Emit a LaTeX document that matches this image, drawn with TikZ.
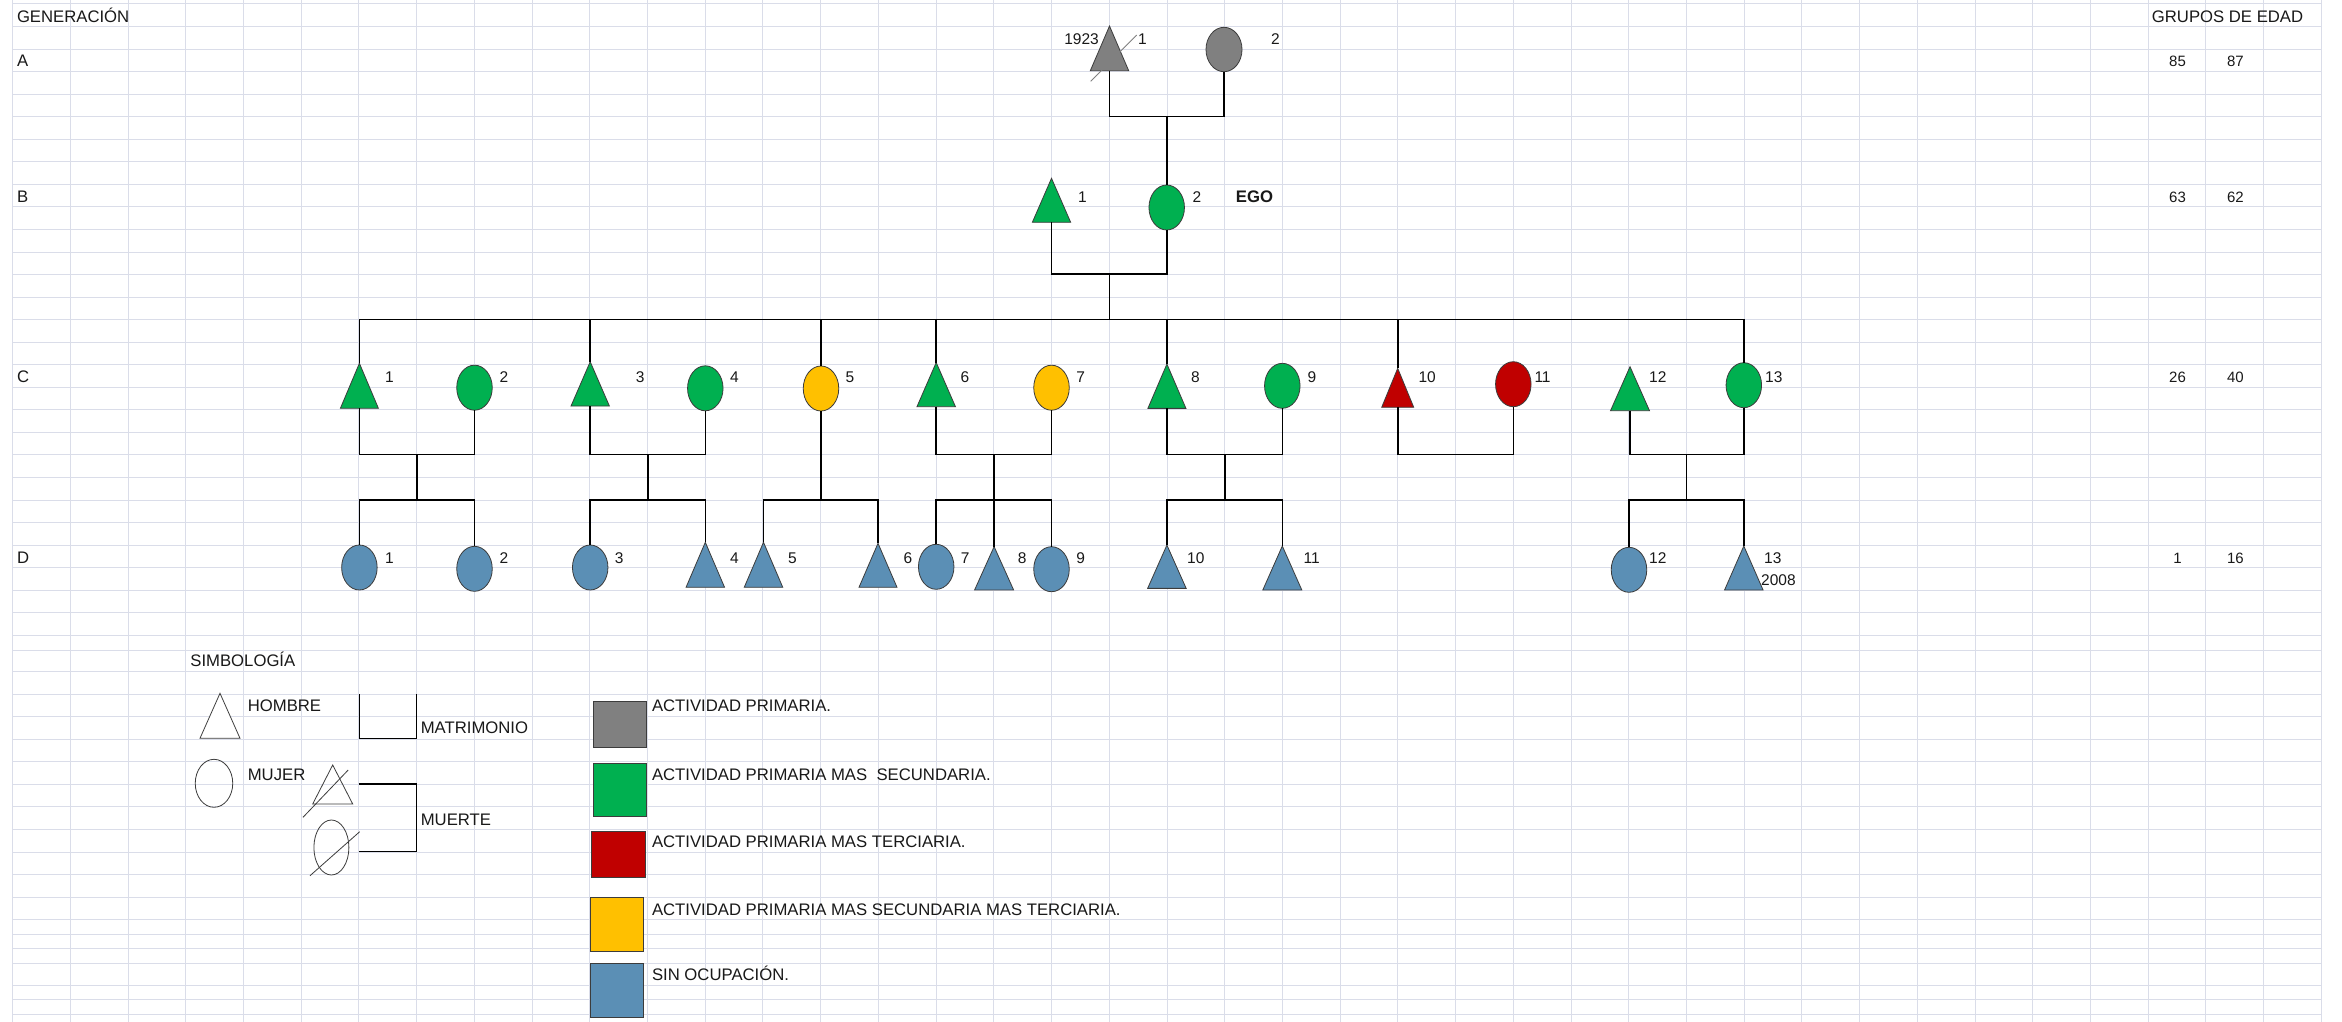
\documentclass[tikz,border=0pt]{standalone}
\usepackage{fontspec}
\setmainfont{Liberation Sans}
\usetikzlibrary{shapes.geometric}
\definecolor{gridc}{RGB}{218,221,233}
\definecolor{actgray}{RGB}{128,128,128}
\definecolor{actgreen}{RGB}{0,176,80}
\definecolor{actred}{RGB}{192,0,0}
\definecolor{actyellow}{RGB}{255,192,0}
\definecolor{actblue}{RGB}{91,143,181}
\definecolor{inkc}{RGB}{25,25,25}
\definecolor{outl}{RGB}{60,60,60}

\newcommand\malenode[6]{%
  \node[malebox, minimum width=#4pt, minimum height=#5pt] (#1) at (#2,#3) {};
  \draw[shapeline, fill=#6] (#1.south west) -- (#1.south east) -- (#1.north) -- cycle;
}
\newcommand\femnode[4]{%
  \node[fembox, fill=#4] (#1) at (#2,#3) {};
}

\begin{document}
\begin{tikzpicture}[x=1pt, y=-1pt,
  gridline/.style={draw=gridc, line width=1pt},
  conn/.style={draw=black, line width=1.6pt},
  shapeline/.style={draw=outl, line width=0.8pt},
  malebox/.style={rectangle, inner sep=0pt, outer sep=0pt},
  fembox/.style={ellipse, draw=outl, line width=0.8pt, inner sep=0pt, outer sep=0pt, minimum width=35.5pt, minimum height=45pt},
  lbl/.style={anchor=base west, inner sep=0pt, text=inkc, font=\fontsize{15.5}{18}\selectfont},
  cell/.style={anchor=base west, inner sep=0pt, text=inkc, font=\fontsize{16.7}{20}\selectfont},
  age/.style={anchor=base, inner sep=0pt, text=inkc, font=\fontsize{15}{18}\selectfont},
  slashline/.style={draw=gray, line width=0.8pt},
  legline/.style={draw=outl, line width=0.8pt},
  legsq/.style={rectangle, draw=outl, line width=0.9pt, inner sep=0pt}
]
\useasboundingbox (0,0) rectangle (2342,1022);
\fill[white] (0,0) rectangle (2342,1022);

% spreadsheet grid
\foreach \k in {0,...,40} \draw[gridline] ({12.6+57.72*\k},0) -- ({12.6+57.72*\k},1022);
\foreach \yy in {4,26.6,49.2,71.7,94.2,116.8,139.3,161.9,184.4,206.9,229.5,252,274.6,297.1,319.6,342.2,364.7,387.3,409.8,432.3,454.9,477.4,500,522.5,545.1,567.6,590.1,612.7,635.2,650,671.7,694,716.5,739,761.5,784.2,806.8,829.3,852,874.4,897,919.3,934,948.3,963.3,985,999.3,1014}
  \draw[gridline] (12.6,\yy) -- (2321.4,\yy);

% headers
\node[cell] (hgen) at (16.8,22.7) {GENERACIÓN};
\node[cell] (hA) at (16.8,66.7) {A};
\node[cell] (hB) at (16.8,202.3) {B};
\node[cell] (hC) at (16.8,382.7) {C};
\node[cell] (hD) at (16.8,563.3) {D};
\node[cell] (hgrp) at (2151.7,23) {GRUPOS DE EDAD};
\node[age] (ag1) at (2177.5,66.7) {85};
\node[age] (ag2) at (2235.4,66.7) {87};
\node[age] (ag3) at (2177.5,202.5) {63};
\node[age] (ag4) at (2235.4,202.5) {62};
\node[age] (ag5) at (2177.5,382.7) {26};
\node[age] (ag6) at (2235.4,382.7) {40};
\node[age] (ag7) at (2177.5,563.3) {1};
\node[age] (ag8) at (2235.4,563.3) {16};

% generation A
\malenode{A1}{1109.5}{48.4}{38.4}{44.7}{actgray}
\node[fembox, fill=actgray, minimum width=36pt, minimum height=44.4pt] (A2) at (1224,49.5) {};
\draw[slashline] (1090.7,81.3) -- (1136.7,35);
\node[lbl, anchor=base east] (tA1y) at (1099,45) {1923};
\node[lbl] (tA1) at (1138,45) {1};
\node[lbl] (tA2) at (1271,45) {2};
\coordinate (amid) at (1166.7,116.7);

% generation B
\malenode{B1}{1051.5}{200.3}{38.3}{44}{actgreen}
\femnode{B2}{1166.7}{207.5}{actgreen}
\node[lbl] (tB1) at (1078,202.3) {1};
\node[lbl] (tB2) at (1192.3,202.3) {2};
\node[cell, font=\fontsize{16.7}{20}\selectfont\bfseries] (tego) at (1235.7,202.3) {EGO};
\coordinate (bmid) at (1109.3,274);
\coordinate (sib) at (1109.3,319.6);

% generation C
\malenode{C1}{359.4}{385.8}{38}{45}{actgreen}
\femnode{C2}{474.5}{387.7}{actgreen}
\malenode{C3}{590.2}{383.9}{38.4}{44.3}{actgreen}
\femnode{C4}{705.3}{388.3}{actgreen}
\femnode{C5}{821}{388.5}{actyellow}
\malenode{C6}{936.2}{384.6}{38.5}{44.2}{actgreen}
\femnode{C7}{1051.5}{387.7}{actyellow}
\malenode{C8}{1166.9}{386.2}{38}{44.3}{actgreen}
\femnode{C9}{1282.3}{385.8}{actgreen}
\malenode{C10}{1397.7}{387.8}{32}{39}{actred}
\femnode{C11}{1513.3}{384.2}{actred}
\malenode{C12}{1630}{388.7}{39}{44}{actgreen}
\femnode{C13}{1743.8}{385.2}{actgreen}

\node[lbl] (tC1) at (384.8,382.7) {1};
\node[lbl] (tC2) at (499.5,382.7) {2};
\node[lbl] (tC3) at (635.7,382.7) {3};
\node[lbl] (tC4) at (729.9,382.7) {4};
\node[lbl] (tC5) at (845.5,382.7) {5};
\node[lbl] (tC6) at (960.5,382.7) {6};
\node[lbl] (tC7) at (1076.2,382.7) {7};
\node[lbl] (tC8) at (1191,382.7) {8};
\node[lbl] (tC9) at (1307.5,382.7) {9};
\node[lbl] (tC10) at (1418.3,382.7) {10};
\node[lbl] (tC11) at (1534.3,382.7) {11};
\node[lbl] (tC12) at (1649,382.7) {12};
\node[lbl] (tC13) at (1765,382.7) {13};

\coordinate (mc1) at (417,454.3);   \coordinate (kc1) at (417,500);
\coordinate (mc3) at (647.7,454.3); \coordinate (kc3) at (647.7,500);
\coordinate (kc5) at (821,500);
\coordinate (mc6) at (994.1,454.3); \coordinate (kc6) at (994.1,500);
\coordinate (mc8) at (1224.9,454.3); \coordinate (kc8) at (1224.9,500);
\coordinate (mc10) at (1455.5,454.3);
\coordinate (mc12) at (1686.4,454.3); \coordinate (kc12) at (1686.4,500);

% generation D
\femnode{D1}{359.4}{567.5}{actblue}
\femnode{D2}{474.5}{568.8}{actblue}
\femnode{D3}{590.2}{567.5}{actblue}
\malenode{D4}{705.3}{564.8}{38.5}{45}{actblue}
\malenode{D5}{763.5}{564.8}{38.5}{45}{actblue}
\malenode{D6}{878}{565.3}{38}{44}{actblue}
\femnode{D7}{936.2}{566.8}{actblue}
\malenode{D8}{994.1}{568.3}{39}{43.3}{actblue}
\femnode{D9}{1051.5}{569.2}{actblue}
\malenode{D10}{1166.9}{566.7}{38.5}{43.3}{actblue}
\malenode{D11}{1282.3}{568}{39}{44}{actblue}
\femnode{D12}{1629}{569.8}{actblue}
\malenode{D13}{1743.8}{568}{38.5}{44}{actblue}

\node[lbl] (tD1) at (384.8,563.3) {1};
\node[lbl] (tD2) at (499.5,563.3) {2};
\node[lbl] (tD3) at (614.7,563.3) {3};
\node[lbl] (tD4) at (729.9,563.3) {4};
\node[lbl] (tD5) at (787.9,563.3) {5};
\node[lbl] (tD6) at (903.5,563.3) {6};
\node[lbl] (tD7) at (960.7,563.3) {7};
\node[lbl] (tD8) at (1017.7,563.3) {8};
\node[lbl] (tD9) at (1076.2,563.3) {9};
\node[lbl] (tD10) at (1187,563.3) {10};
\node[lbl] (tD11) at (1303.5,563.3) {11};
\node[lbl] (tD12) at (1649,563.3) {12};
\node[lbl] (tD13) at (1764,563.3) {13};
\node[lbl] (tD13y) at (1761,585) {2008};

% connectors
\draw[conn] (A1.south) |- (amid) -| (A2.south);
\draw[conn] (amid) -- (B2.north);
\draw[conn] (B1.south) |- (bmid) -| (B2.south);
\draw[conn] (bmid) -- (sib);
\foreach \n in {C1,C3,C5,C6,C8,C10,C13} \draw[conn] (\n.north) |- (sib);

\draw[conn] (C1.south) |- (mc1) -| (C2.south);
\draw[conn] (mc1) -- (kc1);
\draw[conn] (D1.north) |- (kc1) -| (D2.north);

\draw[conn] (C3.south) |- (mc3) -| (C4.south);
\draw[conn] (mc3) -- (kc3);
\draw[conn] (D3.north) |- (kc3) -| (D4.north);

\draw[conn] (C5.south) -- (kc5);
\draw[conn] (D5.north) |- (kc5) -| (D6.north);

\draw[conn] (C6.south) |- (mc6) -| (C7.south);
\draw[conn] (mc6) -- (D8.north);
\draw[conn] (D7.north) |- (kc6) -| (D9.north);

\draw[conn] (C8.south) |- (mc8) -| (C9.south);
\draw[conn] (mc8) -- (kc8);
\draw[conn] (D10.north) |- (kc8) -| (D11.north);

\draw[conn] (C10.south) |- (mc10) -| (C11.south);

\draw[conn] (C12.south) |- (mc12) -| (C13.south);
\draw[conn] (mc12) -- (kc12);
\draw[conn] (D12.north) |- (kc12) -| (D13.north);

% legend
\node[cell] (lsim) at (190.2,666.7) {SIMBOLOGÍA};
\node[malebox, minimum width=40pt, minimum height=45pt] (lgM) at (220,715.8) {};
\draw[legline, fill=white] (lgM.south west) -- (lgM.south east) -- (lgM.north) -- cycle;
\node[cell] (lhom) at (247.6,711.7) {HOMBRE};
\node[ellipse, legline, inner sep=0pt, minimum width=37.5pt, minimum height=48pt] (lgF) at (214,783.3) {};
\node[cell] (lmuj) at (247.6,780) {MUJER};

\coordinate (mt1) at (359.3,694);
\coordinate (mt2) at (416.7,694);
\draw[conn, line width=1.4pt] (mt1) |- (416.7,738.3) -- (mt2);
\node[cell] (lmat) at (420.6,733.3) {MATRIMONIO};

\node[malebox, minimum width=40pt, minimum height=39pt] (lgDM) at (332.7,784.5) {};
\draw[legline] (lgDM.south west) -- (lgDM.south east) -- (lgDM.north) -- cycle;
\draw[slashline, draw=outl] (303,817.3) -- (348.2,770);
\node[ellipse, legline, inner sep=0pt, minimum width=35pt, minimum height=55pt] (lgDF) at (331.4,847.5) {};
\draw[slashline, draw=outl] (310,875.7) -- (359.7,831.7);
\coordinate (br1) at (359.3,784);
\coordinate (br2) at (359.3,851.7);
\draw[conn, line width=1.4pt] (br1) -| (416.7,851.7) -- (br2);
\node[cell] (lmue) at (420.6,825) {MUERTE};

\node[legsq, fill=actgray, minimum width=52.7pt, minimum height=45.6pt] (sq1) at (620,724.5) {};
\node[legsq, fill=actgreen, minimum width=53.1pt, minimum height=53.4pt] (sq2) at (619.5,790) {};
\node[legsq, fill=actred, minimum width=53.5pt, minimum height=46pt] (sq3) at (618.3,854.7) {};
\node[legsq, fill=actyellow, minimum width=52.7pt, minimum height=54pt] (sq4) at (617,924.7) {};
\node[legsq, fill=actblue, minimum width=52.7pt, minimum height=54.3pt] (sq5) at (617,990.2) {};
\node[cell] (tsq1) at (651.8,711.7) {ACTIVIDAD PRIMARIA.};
\node[cell] (tsq2) at (651.8,780) {ACTIVIDAD PRIMARIA MAS\ \ SECUNDARIA.};
\node[cell] (tsq3) at (651.8,847.3) {ACTIVIDAD PRIMARIA MAS TERCIARIA.};
\node[cell] (tsq4) at (651.8,915) {ACTIVIDAD PRIMARIA MAS SECUNDARIA MAS TERCIARIA.};
\node[cell] (tsq5) at (651.8,980.7) {SIN OCUPACIÓN.};
\end{tikzpicture}
\end{document}
